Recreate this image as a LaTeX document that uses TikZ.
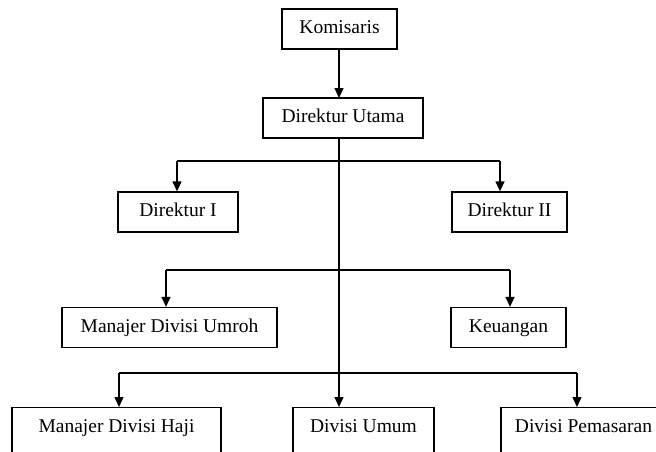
\documentclass[tikz,border=0pt]{standalone}
\usepackage{fontspec}
\setmainfont{Liberation Serif}
\usetikzlibrary{arrows.meta}

\begin{document}
\begin{tikzpicture}[x=1pt,y=-1pt,
  jabatan/.style={draw,line width=1.3pt,inner xsep=0pt,inner ysep=11.5pt,
    text height=13pt,text depth=4pt,font=\fontsize{19.5}{23}\selectfont},
  bawah/.style={jabatan,anchor=north,text depth=40pt},
  garis/.style={line width=1.3pt},
  panah/.style={garis,-{Triangle[width=9pt,length=10pt]}}]
\useasboundingbox (0,0) rectangle (656,451);
\clip (0,0) rectangle (656,451);
\node[jabatan,minimum width=115pt] (kom) at (339.5,29) {Komisaris};
\node[jabatan,minimum width=160pt] (dirut) at (343,118) {Direktur Utama};
\node[jabatan,minimum width=120pt] (dir1) at (178,212) {Direktur I};
\node[jabatan,minimum width=115pt] (dir2) at (509.5,212) {Direktur II};
\node[jabatan,minimum width=215pt] (umroh) at (169.5,327.5) {Manajer Divisi Umroh};
\node[jabatan,minimum width=115pt] (keu) at (508.5,327.5) {Keuangan};
\node[bawah,minimum width=209pt] (haji) at (116.5,407) {Manajer Divisi Haji};
\node[bawah,minimum width=141pt] (umum) at (363.5,407) {Divisi Umum};
\node[bawah,minimum width=165pt] (pemasaran) at (583.5,407) {Divisi Pemasaran};
\coordinate (t0) at (339,49);
\coordinate (t1) at (339,98);
\coordinate (t2) at (339,138);
\coordinate (t3) at (339,407);
\coordinate (k1l) at (177,161);
\coordinate (k1r) at (500,161);
\coordinate (k2l) at (166,270);
\coordinate (k2r) at (510,270);
\coordinate (k3l) at (119,373);
\coordinate (k3r) at (577,373);
\draw[panah] (t0) -- (t1);
\draw[panah] (t2) -- (t3);
\draw[garis] (k1l) -- (k1r);
\draw[garis] (k2l) -- (k2r);
\draw[garis] (k3l) -- (k3r);
\draw[panah] (k1l) -- (k1l |- dir1.north);
\draw[panah] (k1r) -- (k1r |- dir2.north);
\draw[panah] (k2l) -- (k2l |- umroh.north);
\draw[panah] (k2r) -- (k2r |- keu.north);
\draw[panah] (k3l) -- (k3l |- haji.north);
\draw[panah] (k3r) -- (k3r |- pemasaran.north);
\end{tikzpicture}
\end{document}
